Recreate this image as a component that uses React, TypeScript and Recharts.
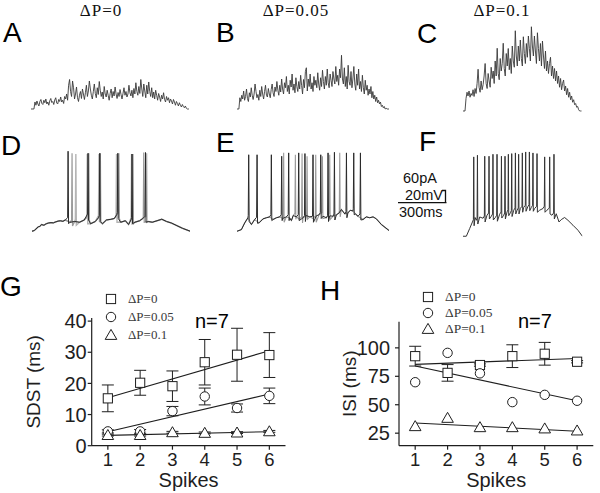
import React from 'react'
import {
    LineChart,
    Line,
    XAxis,
    YAxis,
    ComposedChart,
    Scatter,
    ErrorBar,
    Legend
} from 'recharts'

const SANS = '"Liberation Sans", Arial, sans-serif'
const SERIF = '"Liberation Serif", "Times New Roman", serif'

// A–C: current (pA above holding), one sample every TRACE_DT ms
const TRACE_DT = 6.25
const currentA = [
    0, 0, 0, 0, 28, 15, 32, 20, 12, 30,
    38, 22, 18, 35, 25, 40, 20, 28, 15, 33,
    42, 26, 30, 18, 36, 45, 24, 20, 38, 30,
    48, 28, 35, 22, 50, 40, 60, 35, 95, 118,
    70, 50, 112, 85, 40, 60, 88, 45, 30, 55,
    70, 42, 80, 60, 38, 65, 95, 50, 72, 112,
    80, 55, 40, 70, 100, 62, 45, 85, 58, 110,
    75, 50, 68, 40, 90, 60, 48, 75, 55, 35,
    62, 80, 45, 70, 52, 88, 60, 42, 66, 50,
    78, 58, 40, 62, 85, 55, 70, 48, 60, 95,
    65, 52, 75, 45, 82, 60, 105, 70, 55, 90,
    62, 118, 80, 50, 100, 72, 45, 95, 60, 108,
    70, 50, 85, 45, 68, 40, 75, 55, 35, 62,
    48, 30, 55, 40, 65, 38, 28, 50, 35, 45,
    25, 40, 32, 20, 38, 28, 15, 30, 22, 12,
    25, 15, 8, 18, 10, 5, 12, 3, 0, 0, 0
]
const currentB = [
    0, 0, 0, 45, 30, 55, 40, 72, 35, 50,
    80, 42, 30, 65, 48, 85, 55, 38, 60, 100,
    70, 45, 58, 35, 75, 50, 90, 60, 40, 70,
    95, 55, 48, 82, 60, 45, 78, 100, 65, 50,
    88, 70, 110, 75, 55, 95, 68, 120, 80, 60,
    105, 85, 130, 70, 95, 60, 115, 88, 140, 75,
    100, 65, 125, 90, 70, 110, 80, 135, 95, 60,
    118, 85, 150, 165, 72, 120, 90, 140, 80, 105,
    70, 130, 95, 115, 85, 145, 100, 75, 125, 90,
    155, 110, 80, 130, 95, 160, 105, 85, 140, 115,
    90, 150, 120, 100, 170, 110, 135, 95, 160, 125,
    215, 120, 100, 165, 90, 130, 80, 175, 110, 95,
    150, 85, 120, 170, 100, 75, 140, 95, 160, 80,
    110, 70, 135, 85, 60, 115, 75, 95, 55, 80,
    60, 90, 45, 70, 40, 55, 30, 48, 25, 35,
    20, 28, 10, 15, 5, 10, 0, 3, 0, 0, 0
]
const currentC = [
    0, 0, 0, 50, 75, 60, 80, 55, 70, 62,
    85, 58, 90, 70, 110, 167, 95, 75, 120, 85,
    105, 140, 190, 110, 90, 150, 120, 95, 175, 130,
    160, 110, 200, 140, 251, 150, 125, 210, 160, 190,
    271, 170, 140, 230, 180, 250, 165, 210, 150, 260,
    200, 175, 321, 220, 180, 260, 200, 284, 210, 180,
    297, 230, 190, 270, 215, 300, 250, 200, 337, 260,
    220, 300, 240, 190, 313, 250, 200, 270, 180, 280,
    220, 170, 240, 160, 200, 150, 190, 215, 140, 180,
    130, 170, 120, 160, 110, 140, 95, 130, 85, 110,
    124, 80, 100, 65, 90, 55, 75, 45, 60, 35,
    45, 25, 30, 15, 18, 5, 0, 0, 0
]

// D–F: membrane potential, baseline samples [ms, mV] plus spike times (ms) and peaks (mV)
const baseD = [
    [0, -70], [15, -69], [25, -67], [40, -64], [50, -63.5], [60, -61], [75, -62], [90, -60], [105, -59],
    [120, -58.5], [135, -58.8], [150, -57.5], [165, -56.5], [180, -56], [195, -56.8], [210, -55],
    [240, -58], [270, -57], [300, -58], [330, -55], [350, -50], [370, -60], [400, -57], [420, -52],
    [445, -60], [470, -55], [500, -54], [520, -53], [535, -48], [560, -58], [590, -56], [610, -61],
    [625, -55], [650, -58], [680, -56], [700, -53], [735, -57], [760, -58], [790, -56], [820, -54],
    [850, -57], [880, -59], [910, -62], [950, -66], [1000, -70]
]
const spikeTimesD = [228, 354, 428, 542, 632, 717]
const spikePeaksD = [36.7, 34, 34, 34, 33, 35]
const spikeTimesDGrey1 = [253, 359, 432, 549, 638, 706]
const spikePeaksDGrey1 = [34, 34, 34, 34, 33, 35]
const spikeTimesDGrey2 = [277, 349, 423, 534, 629, 724]
const spikePeaksDGrey2 = [33, 33, 33, 33, 33, 34]

const baseE = [
    [0, -70], [29, -67.8], [51, -58.8], [72, -52], [95, -61], [116, -54.4], [145, -58.8], [171, -53.5],
    [193, -52], [215, -50.8], [237, -54.4], [259, -52], [281, -50.8], [300, -53], [325, -50.8],
    [345, -52], [358, -55.7], [370, -49], [391, -50.8], [410, -54], [435, -52], [455, -49], [479, -50.8],
    [500, -53], [522, -49.4], [540, -48], [566, -50], [588, -52], [610, -49.4], [632, -50], [654, -48],
    [670, -46], [687, -41], [710, -47], [730, -45.5], [745, -42], [763, -43], [780, -47], [796, -50],
    [829, -54.4], [851, -50.8], [873, -52], [895, -50.8], [917, -53.5], [950, -61], [1000, -69]
]
const spikeTimesE = [77, 132, 226, 294, 340, 406, 447, 500, 551, 599, 641, 720, 768, 812]
const spikePeaksE = [32, 32, 32, 30, 34.5, 34.5, 33.6, 32, 32, 34.5, 35.3, 34.5, 34.5, 34.5]
const spikeTimesEGrey = [307, 384, 428, 461, 518, 562, 610, 676]
const spikePeaksEGrey = [34.5, 32, 33.6, 30, 32, 30, 32, 34.5]

const baseF = [
    [0, -70], [28, -70], [56, -59.7], [79, -51], [101, -45], [112, -48.7], [140, -44.3], [168, -46],
    [201, -42], [237, -43.3], [271, -45], [307, -40.7], [341, -42], [369, -37.6], [397, -38.7],
    [425, -35.3], [453, -35.3], [480, -33], [508, -31.7], [542, -30.9], [572, -31.7], [600, -33],
    [642, -35.3], [670, -33], [703, -35.3], [745, -42], [781, -40], [804, -51], [823, -47.8],
    [851, -45], [879, -48.7], [921, -55.3], [963, -62], [1000, -70]
]
const spikeTimesF = [90, 121, 182, 218, 251, 285, 322, 352, 380, 408, 439, 466, 497, 525, 556, 586, 620, 684, 726, 762]
const spikePeaksF = [35.8, 38, 36.7, 36.7, 39.3, 39.3, 36.7, 36.7, 39.3, 40.2, 41.1, 39.3, 41.1, 42.4, 42.4, 41.1, 40.2, 35.8, 35.8, 39.3]

// G, H: spike number vs SDST / ISI
const spikeNo = [1, 2, 3, 4, 5, 6]
const sdstP0 = [15.2, 20.2, 19.1, 26.8, 29.2, 29.1]
const sdstP0Err = [4.3, 4.0, 4.9, 7.3, 8.5, 7.2]
const sdstP005 = [4.6, 4.6, 11.1, 15.8, 12.1, 16.0]
const sdstP005Err = [0.5, 0.6, 1.5, 2.7, 1.3, 2.5]
const sdstP01 = [3.4, 3.4, 4.3, 4.1, 4.2, 4.6]
const sdstP01Err = [0.3, 0.3, 0.3, 0.3, 0.3, 0.3]
const sdstFitP0 = [15.4, 30.5]
const sdstFitP005 = [4.5, 16.6]
const sdstFitP01 = [3.3, 4.5]

const isiP0 = [92.7, 78, 84.9, 92.7, 94.8, 87.8]
const isiP0Err = [8.7, 7.3, 1, 10, 10, 1]
const isiP005 = [69.8, 95.6, 77.6, 52.3, 58.7, 53.5]
const isiP005Err = [0, 0, 0, 0, 0, 0]
const isiP01 = [31.1, 38.4, 30.2, 30.2, 29.1, 27.3]
const isiP01Err = [0, 0, 0, 0, 0, 0]
const isiFitP0 = [85.5, 90.7]
const isiFitP005 = [84, 53.5]
const isiFitP01 = [34, 26.7]

type Pt = { t: number; v: number }

const sampled = (vals: number[]): Pt[] => vals.map((v, i) => ({ t: i * TRACE_DT, v }))

function withSpikes(base: number[][], times: number[], peaks: number[]): Pt[] {
    const pts: Pt[] = base
        .filter(([t]) => !times.some((ts) => Math.abs(ts - t) < 5))
        .map(([t, v]) => ({ t, v }))
    times.forEach((ts, i) => {
        const before = base.filter(([t]) => t <= ts)
        const vb = before.length ? before[before.length - 1][1] : base[0][1]
        pts.push({ t: ts - 3, v: vb + 3 }, { t: ts, v: peaks[i] }, { t: ts + 3, v: vb - 5 })
    })
    return pts.sort((a, b) => a.t - b.t)
}

const rows = (vals: number[], errs: number[]) => spikeNo.map((x, i) => ({ x, y: vals[i], err: errs[i] }))
const fit = (ends: number[]) => [
    { x: spikeNo[0], y: ends[0] },
    { x: spikeNo[spikeNo.length - 1], y: ends[1] }
]

type TraceLine = { data: Pt[]; stroke: string; width: number }

function TracePanel(props: {
    left: number
    top: number
    width: number
    height: number
    tMax: number
    vMin: number
    vMax: number
    lines: TraceLine[]
}) {
    const { left, top, width, height, tMax, vMin, vMax, lines } = props
    return (
        <div style={{ position: 'absolute', left, top }}>
            <LineChart width={width} height={height} margin={{ top: 0, right: 0, bottom: 0, left: 0 }}>
                <XAxis type="number" dataKey="t" domain={[0, tMax]} hide allowDataOverflow />
                <YAxis type="number" domain={[vMin, vMax]} hide allowDataOverflow />
                {lines.map((l, i) => (
                    <Line
                        key={i}
                        data={l.data}
                        dataKey="v"
                        type="linear"
                        stroke={l.stroke}
                        strokeWidth={l.width}
                        dot={false}
                        isAnimationActive={false}
                    />
                ))}
            </LineChart>
        </div>
    )
}

const INK = '#1e1e1e'

const SquareShape = (p: any) => (
    <rect x={p.cx - 4.6} y={p.cy - 4.6} width={9.2} height={9.2} fill="#fff" stroke={INK} strokeWidth={1} />
)
const CircleShape = (p: any) => <circle cx={p.cx} cy={p.cy} r={4.7} fill="#fff" stroke={INK} strokeWidth={1} />
const TriangleShape = (p: any) => (
    <path
        d={`M${p.cx},${p.cy - 5.6} L${p.cx + 5.8},${p.cy + 4.4} L${p.cx - 5.8},${p.cy + 4.4} Z`}
        fill="#fff"
        stroke={INK}
        strokeWidth={1}
    />
)

function legendIcon(type: string) {
    if (type === 'square') return <SquareShape cx={11} cy={9} />
    if (type === 'triangle') return <TriangleShape cx={11} cy={9} />
    return <CircleShape cx={11} cy={9} />
}

const SYMBOLS = ['square', 'circle', 'triangle']

const makeLegend = (rowH: number, fontSize: number) => (props: any) => (
    <div style={{ fontFamily: SERIF, fontSize, color: '#3a3a3a' }}>
        {(props.payload || [])
            .filter((e: any) => SYMBOLS.includes(e.type))
            .map((e: any, i: number) => (
                <div key={i} style={{ display: 'flex', alignItems: 'center', height: rowH }}>
                    <svg width={22} height={18} style={{ marginRight: 6 }}>
                        {legendIcon(e.type)}
                    </svg>
                    <span>{e.value}</span>
                </div>
            ))}
    </div>
)

const axisStyle = { fontFamily: SANS, fontSize: 18.5, fill: INK }

function SpikePlot(props: {
    left: number
    top: number
    width: number
    height: number
    margin: { top: number; right: number; bottom: number; left: number }
    yWidth: number
    yDomain: number[]
    yTicks: number[]
    yLabel: string
    yLabelOffset: number
    yLabelShift: number
    yTickMargin: number
    legendLeft: number
    legendTop: number
    legendRow: number
    legendFont: number
    sq: { x: number; y: number; err: number }[]
    ci: { x: number; y: number; err: number }[]
    tr: { x: number; y: number; err: number }[]
    fits: { x: number; y: number }[][]
}) {
    const p = props
    return (
        <div style={{ position: 'absolute', left: p.left, top: p.top }}>
            <ComposedChart width={p.width} height={p.height} margin={p.margin}>
                <XAxis
                    type="number"
                    dataKey="x"
                    domain={[0.5, 6.5]}
                    ticks={spikeNo}
                    height={45}
                    tickSize={4}
                    tickMargin={3}
                    tick={axisStyle}
                    stroke={INK}
                    strokeWidth={1.2}
                    label={{ value: 'Spikes', position: 'insideBottom', offset: 4, style: { ...axisStyle, fontSize: 20 } }}
                />
                <YAxis
                    type="number"
                    dataKey="y"
                    domain={p.yDomain}
                    ticks={p.yTicks}
                    width={p.yWidth}
                    tickSize={4}
                    tickMargin={p.yTickMargin}
                    tick={{ ...axisStyle, fontSize: 20 }}
                    stroke={INK}
                    strokeWidth={1.2}
                    allowDataOverflow
                    label={{
                        value: p.yLabel,
                        angle: -90,
                        position: 'insideLeft',
                        offset: p.yLabelOffset,
                        dx: p.yLabelShift,
                        style: { ...axisStyle, fontSize: 19, textAnchor: 'middle' }
                    }}
                />
                <Legend
                    layout="vertical"
                    align="center"
                    verticalAlign="middle"
                    wrapperStyle={{ left: p.legendLeft, top: p.legendTop, width: 120 }}
                    content={makeLegend(p.legendRow, p.legendFont)}
                />
                {p.fits.map((f, i) => (
                    <Line
                        key={i}
                        data={f}
                        dataKey="y"
                        type="linear"
                        stroke={INK}
                        strokeWidth={1.1}
                        dot={false}
                        legendType="none"
                        isAnimationActive={false}
                    />
                ))}
                <Scatter name="ΔP=0" data={p.sq} dataKey="y" legendType="square" shape={SquareShape} isAnimationActive={false}>
                    <ErrorBar dataKey="err" direction="y" width={6} stroke={INK} strokeWidth={1} />
                </Scatter>
                <Scatter name="ΔP=0.05" data={p.ci} dataKey="y" legendType="circle" shape={CircleShape} isAnimationActive={false}>
                    <ErrorBar dataKey="err" direction="y" width={6} stroke={INK} strokeWidth={1} />
                </Scatter>
                <Scatter name="ΔP=0.1" data={p.tr} dataKey="y" legendType="triangle" shape={TriangleShape} isAnimationActive={false}>
                    <ErrorBar dataKey="err" direction="y" width={6} stroke={INK} strokeWidth={1} />
                </Scatter>
            </ComposedChart>
        </div>
    )
}

export default function App() {
    const grey = '#9a9a9a'
    return (
        <div style={{ position: 'absolute', left: 0, top: 0, width: 600, height: 493, background: '#fff', overflow: 'hidden' }}>
            <svg width={600} height={493} style={{ position: 'absolute', left: 0, top: 0 }}>
                <g fontFamily={SERIF} fontSize={17} fill="#111" textAnchor="middle" letterSpacing={1}>
                    <text x={101} y={16}>ΔP=0</text>
                    <text x={296} y={16}>ΔP=0.05</text>
                    <text x={502} y={16}>ΔP=0.1</text>
                </g>
                <g fontFamily={SANS} fontSize={28} fill="#000">
                    <text x={3} y={42}>A</text>
                    <text x={216} y={42}>B</text>
                    <text x={417} y={43}>C</text>
                    <text x={1} y={155}>D</text>
                    <text x={216} y={152}>E</text>
                    <text x={419} y={151}>F</text>
                    <text x={0} y={296}>G</text>
                    <text x={320} y={300}>H</text>
                </g>
                <g fontFamily={SANS} fontSize={14.5} fill="#111">
                    <text x={403} y={183}>60pA</text>
                    <text x={405} y={200}>20mV</text>
                    <text x={399} y={217}>300ms</text>
                </g>
                <path d="M442,190.5 H445.5 V202" stroke="#111" strokeWidth={1.3} fill="none" />
                <path d="M398,202.7 H446.5" stroke="#111" strokeWidth={1.3} fill="none" />
                <g fontFamily={SANS} fontSize={20} fill="#000">
                    <text x={195} y={328}>n=7</text>
                    <text x={518} y={328}>n=7</text>
                </g>
            </svg>

            <TracePanel left={30.7} top={14} width={158.3} height={100} tMax={1000} vMin={-20} vMax={380}
                lines={[{ data: sampled(currentA), stroke: '#3a3a3a', width: 0.9 }]} />
            <TracePanel left={237} top={14.3} width={152} height={100} tMax={1000} vMin={-20} vMax={380}
                lines={[{ data: sampled(currentB), stroke: '#3a3a3a', width: 0.9 }]} />
            <TracePanel left={463} top={16} width={118.7} height={100} tMax={737.5} vMin={-20} vMax={380}
                lines={[{ data: sampled(currentC), stroke: '#3a3a3a', width: 0.9 }]} />

            <TracePanel left={31.7} top={145.45} width={158.3} height={90} tMax={1000} vMin={-75} vMax={45}
                lines={[
                    { data: withSpikes(baseD, spikeTimesDGrey2, spikePeaksDGrey2), stroke: '#b4b4b4', width: 1.4 },
                    { data: withSpikes(baseD, spikeTimesDGrey1, spikePeaksDGrey1), stroke: grey, width: 1.2 },
                    { data: withSpikes(baseD, spikeTimesD, spikePeaksD), stroke: '#2a2a2a', width: 1 }
                ]} />
            <TracePanel left={237.3} top={145.45} width={152} height={90} tMax={1000} vMin={-75} vMax={45}
                lines={[
                    { data: withSpikes(baseE, spikeTimesEGrey, spikePeaksEGrey), stroke: grey, width: 1.1 },
                    { data: withSpikes(baseE, spikeTimesE, spikePeaksE), stroke: '#2a2a2a', width: 1 }
                ]} />
            <TracePanel left={463.3} top={149.75} width={119.4} height={90} tMax={1000} vMin={-75} vMax={45}
                lines={[{ data: withSpikes(baseF, spikeTimesF, spikePeaksF), stroke: '#333', width: 1 }]} />

            <SpikePlot
                left={0} top={290} width={300} height={200.7}
                margin={{ top: 28, right: 14.5, bottom: 0, left: 0 }}
                yWidth={91.7} yDomain={[0, 41]} yTicks={[0, 10, 20, 30, 40]}
                yLabel="SDST (ms)" yLabelOffset={28} yLabelShift={5} yTickMargin={1}
                legendLeft={100} legendTop={0} legendRow={18} legendFont={13}
                sq={rows(sdstP0, sdstP0Err)} ci={rows(sdstP005, sdstP005Err)} tr={rows(sdstP01, sdstP01Err)}
                fits={[fit(sdstFitP0), fit(sdstFitP005), fit(sdstFitP01)]}
            />
            <SpikePlot
                left={300} top={290} width={300} height={200.7}
                margin={{ top: 31.7, right: 6.7, bottom: 0, left: 0 }}
                yWidth={99} yDomain={[14, 123]} yTicks={[25, 50, 75, 100]}
                yLabel="ISI (ms)" yLabelOffset={40} yLabelShift={9} yTickMargin={5}
                legendLeft={117} legendTop={-1.3} legendRow={16} legendFont={13.5}
                sq={rows(isiP0, isiP0Err)} ci={rows(isiP005, isiP005Err)} tr={rows(isiP01, isiP01Err)}
                fits={[fit(isiFitP0), fit(isiFitP005), fit(isiFitP01)]}
            />
        </div>
    )
}
